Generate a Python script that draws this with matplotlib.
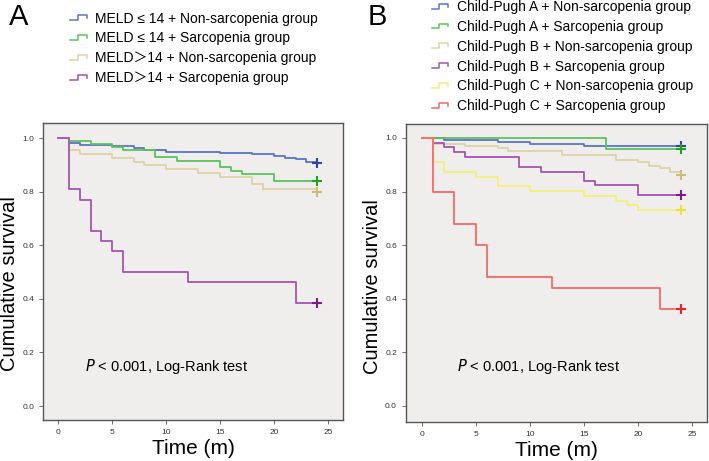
import matplotlib
matplotlib.use("Agg")
import matplotlib.pyplot as plt
from matplotlib.legend_handler import HandlerBase
from matplotlib.lines import Line2D

plt.rcParams["font.family"] = ["Liberation Sans", "Noto Sans CJK SC", "DejaVu Sans"]

# ---- Panel A data (time in months, survival) ----
labels_a = [
    "MELD \u2264 14 + Non-sarcopenia group",
    "MELD \u2264 14 + Sarcopenia group",
    "MELD\uff1e14 + Non-sarcopenia group",
    "MELD\uff1e14 + Sarcopenia group",
]
t_a_meld_lo_non = [0, 1, 2, 5, 7, 8, 10, 15, 18, 20, 21, 22, 23, 24]
s_a_meld_lo_non = [1.0, 0.981, 0.975, 0.970, 0.961, 0.955, 0.949, 0.945, 0.940, 0.933, 0.924, 0.920, 0.912, 0.908]
t_a_meld_lo_sar = [0, 1, 3, 5, 6, 9, 11, 15, 16, 17, 20, 24]
s_a_meld_lo_sar = [1.0, 0.987, 0.977, 0.965, 0.955, 0.929, 0.914, 0.890, 0.878, 0.866, 0.841, 0.841]
t_a_meld_hi_non = [0, 1, 2, 5, 7, 8, 10, 13, 15, 18, 19, 24]
s_a_meld_hi_non = [1.0, 0.957, 0.940, 0.927, 0.912, 0.899, 0.883, 0.868, 0.856, 0.828, 0.811, 0.799]
t_a_meld_hi_sar = [0, 1, 2, 3, 4, 5, 6, 12, 22, 24]
s_a_meld_hi_sar = [1.0, 0.808, 0.769, 0.654, 0.615, 0.577, 0.500, 0.462, 0.385, 0.385]

# ---- Panel B data ----
labels_b = [
    "Child-Pugh A + Non-sarcopenia group",
    "Child-Pugh A + Sarcopenia group",
    "Child-Pugh B + Non-sarcopenia group",
    "Child-Pugh B + Sarcopenia group",
    "Child-Pugh C + Non-sarcopenia group",
    "Child-Pugh C + Sarcopenia group",
]
t_b_a_non = [0, 2, 7, 10, 15, 24]
s_b_a_non = [1.0, 0.993, 0.986, 0.979, 0.971, 0.971]
t_b_a_sar = [0, 17, 24]
s_b_a_sar = [1.0, 0.960, 0.960]
t_b_b_non = [0, 1, 4, 7, 8, 13, 18, 20, 21, 22, 23, 24]
s_b_b_non = [1.0, 0.978, 0.970, 0.961, 0.950, 0.938, 0.918, 0.910, 0.897, 0.886, 0.873, 0.862]
t_b_b_sar = [0, 1, 2, 3, 4, 9, 11, 15, 16, 20, 24]
s_b_b_sar = [1.0, 0.980, 0.965, 0.948, 0.928, 0.893, 0.874, 0.841, 0.823, 0.787, 0.787]
t_b_c_non = [0, 1, 2, 5, 7, 10, 15, 18, 19, 20, 24]
s_b_c_non = [1.0, 0.910, 0.874, 0.856, 0.821, 0.803, 0.785, 0.766, 0.749, 0.731, 0.731]
t_b_c_sar = [0, 1, 3, 5, 6, 12, 22, 24]
s_b_c_sar = [1.0, 0.800, 0.680, 0.600, 0.480, 0.440, 0.360, 0.360]

line_colors_a = ["#5b74c8", "#5cc25c", "#dcd3a6", "#a455b0"]
mark_colors_a = ["#2e46a8", "#22a022", "#c9bb78", "#7a1f86"]
line_colors_b = ["#5b74c8", "#5cc25c", "#dcd3a6", "#a455b0", "#f4ee7c", "#f26a6a"]
mark_colors_b = ["#2e46a8", "#22a022", "#c9bb78", "#7a1f86", "#eee03a", "#e02828"]

curves_a = [(t_a_meld_lo_non, s_a_meld_lo_non), (t_a_meld_lo_sar, s_a_meld_lo_sar),
            (t_a_meld_hi_non, s_a_meld_hi_non), (t_a_meld_hi_sar, s_a_meld_hi_sar)]
curves_b = [(t_b_a_non, s_b_a_non), (t_b_a_sar, s_b_a_sar), (t_b_b_non, s_b_b_non),
            (t_b_b_sar, s_b_b_sar), (t_b_c_non, s_b_c_non), (t_b_c_sar, s_b_c_sar)]


class StepHandler(HandlerBase):
    # small step glyph like SPSS legends
    def create_artists(self, legend, orig_handle, xdescent, ydescent,
                       width, height, fontsize, trans):
        x0, w, h = -xdescent, width, height
        y0 = -ydescent
        xs = [x0, x0 + 0.45 * w, x0 + 0.45 * w, x0 + w, x0 + w]
        ys = [y0 + 0.25 * h, y0 + 0.25 * h, y0 + 0.75 * h, y0 + 0.75 * h, y0 + 0.45 * h]
        ln = Line2D(xs, ys, color=orig_handle.get_color(), lw=1.1, transform=trans)
        return [ln]


def draw_panel(ax, curves, lcols, mcols, xlim, ylim, ptext_x, ylab_y):
    handles = []
    for (t, s), lc, mc in zip(curves, lcols, mcols):
        h, = ax.step(t, s, where="post", color=lc, lw=1.3)
        ax.plot(t[-1], s[-1], marker="+", ms=7, mew=1.5, color=mc, ls="none")
        handles.append(h)
    ax.set_facecolor("#f0eeed")
    ax.set_xlim(*xlim)
    ax.set_ylim(*ylim)
    ax.set_xticks([0, 5, 10, 15, 20, 25])
    ax.set_yticks([0.0, 0.2, 0.4, 0.6, 0.8, 1.0])
    ax.set_yticklabels(["0.0", "0.2", "0.4", "0.6", "0.8", "1.0"])
    ax.tick_params(labelsize=6, length=3, width=0.6, color="#555555", labelcolor="#333333")
    for sp in ax.spines.values():
        sp.set_color("#555555")
        sp.set_linewidth(1.0)
    ax.set_ylabel("Cumulative survival", fontsize=14.5, labelpad=2)
    ax.yaxis.label.set_y(ylab_y)
    ax.set_xlabel("Time (m)", fontsize=15, labelpad=2)
    ax.text(ptext_x, 0.146, "$\\it{P}$ < 0.001, Log-Rank test", fontsize=10.5, va="center")
    return handles


fig = plt.figure(figsize=(7.09, 4.61), dpi=100)
ax_a = fig.add_axes([0.0607, 0.0889, 0.4231, 0.6443])
ax_b = fig.add_axes([0.5726, 0.0846, 0.4246, 0.6464])

ha = draw_panel(ax_a, curves_a, line_colors_a, mark_colors_a, (-1.4, 26.4), (-0.052, 1.056), 2.5, 0.46)
hb = draw_panel(ax_b, curves_b, line_colors_b, mark_colors_b, (-1.48, 26.4), (-0.06, 1.052), 3.2, 0.455)

fig.legend(ha, labels_a, loc="upper left", bbox_to_anchor=(0.087, 0.993), frameon=False,
           fontsize=10, handlelength=1.2, handletextpad=0.6, labelspacing=0.42,
           borderaxespad=0.2, handler_map={Line2D: StepHandler()})
fig.legend(hb, labels_b, loc="upper left", bbox_to_anchor=(0.597, 1.018), frameon=False,
           fontsize=10, handlelength=1.2, handletextpad=0.6, labelspacing=0.42,
           borderaxespad=0.2, handler_map={Line2D: StepHandler()})

fig.text(0.012, 0.963, "A", fontsize=21, va="center", ha="left")
fig.text(0.518, 0.963, "B", fontsize=21, va="center", ha="left")

fig.savefig("out.png", dpi=100, facecolor="white")
